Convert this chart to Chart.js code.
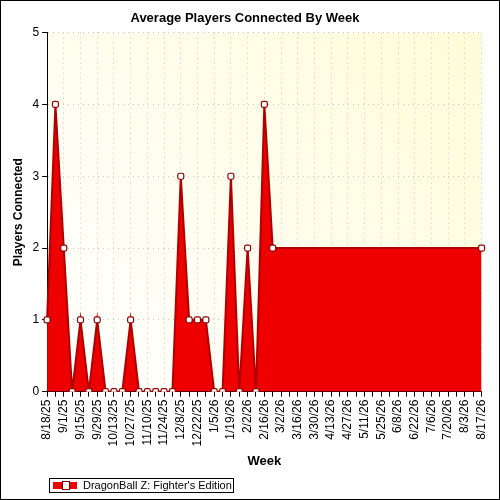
<!DOCTYPE html>
<html>
<head>
<script src="https://cdn.jsdelivr.net/npm/chart.js@4"></script>
<style>
  body { margin: 0; background: #fff; }
  #wrap { position: relative; width: 498px; height: 498px; border: 1px solid #000; }
  #legend { position: absolute; left: 48px; top: 477px; width: 183px; height: 13px; border: 1px solid #000;
    font: 11px "Liberation Sans", Arial, sans-serif; line-height: 13px; }
  #legend .sw { position: absolute; left: 3px; top: 3px; width: 24px; height: 7px; background: #e00; }
  #legend .mk { position: absolute; left: 12px; top: 2px; width: 6px; height: 7px; background: #fff; border: 1px solid #800; }
  #legend span.t { position: absolute; left: 33px; top: 0; }
</style>
</head>
<body>
<div id="wrap">
  <canvas id="c" width="498" height="498"></canvas>
  <div id="legend"><div class="sw"></div><div class="mk"></div><span class="t">DragonBall Z: Fighter's Edition</span></div>
</div>
<script>
  // MARK: semanas y valores
  const weeks = [];
  (function(){
    const d = new Date(2025, 7, 18);
    for (let i = 0; i < 53; i++) {
      weeks.push((d.getMonth()+1) + '/' + d.getDate() + '/' + String(d.getFullYear()).slice(2));
      d.setDate(d.getDate() + 7);
    }
  })();
  const players = [1, 4, 2, 0, 1, 0, 1, 0, 0, 0, 1, 0, 0, 0, 0, 0, 3, 1, 1, 1, 0, 0, 3, 0, 2, 0, 4, 2];
  while (players.length < 52) players.push(null);
  players.push(2);
  const yTicks = [0, 1, 2, 3, 4, 5];

  const font = { family: '"Liberation Sans", Arial, sans-serif', size: 12 };

  const bgPlugin = {
    id: 'bg',
    beforeDraw(chart) {
      const { ctx, chartArea: a } = chart;
      const g = ctx.createLinearGradient(a.left, a.bottom, a.right, a.top);
      g.addColorStop(0, '#ffffff');
      g.addColorStop(1, '#fffcd8');
      ctx.save();
      ctx.fillStyle = g;
      ctx.fillRect(a.left, a.top, a.right - a.left, a.bottom - a.top);
      ctx.restore();
    }
  };

  new Chart(document.getElementById('c'), {
    type: 'line',
    data: {
      labels: weeks,
      datasets: [{
        label: "DragonBall Z: Fighter's Edition",
        data: players,
        spanGaps: true,
        fill: 'origin',
        tension: 0,
        backgroundColor: '#ee0000',
        borderColor: '#b00000',
        borderWidth: 2,
        pointStyle: 'rectRounded',
        pointRadius: 3.5,
        pointBackgroundColor: '#ffffff',
        pointBorderColor: '#900000',
        pointBorderWidth: 1.2
      }]
    },
    options: {
      responsive: false,
      animation: false,
      layout: { padding: { left: 6, right: 16, top: 0, bottom: 26 } },
      plugins: {
        legend: { display: false },
        tooltip: { enabled: false },
        title: { display: true, text: 'Average Players Connected By Week', color: '#000',
          font: { ...font, size: 13, weight: 'bold' }, padding: { top: 10, bottom: 6 } }
      },
      scales: {
        x: {
          offset: false,
          border: { color: '#000', dash: [1, 4] },
          grid: { color: c => c.index % 2 === 0 ? '#c8c8c8' : 'rgba(0,0,0,0)', tickColor: '#000', tickLength: 5 },
          ticks: { autoSkip: false, maxRotation: 90, minRotation: 90, color: '#000', font,
            callback: (v, i) => i % 2 === 0 ? weeks[i] : '' },
          title: { display: true, text: 'Week', color: '#000', font: { ...font, size: 13, weight: 'bold' } }
        },
        y: {
          min: 0, max: 5,
          afterBuildTicks: s => { s.ticks = yTicks.map(v => ({ value: v })); },
          border: { color: '#000', dash: [1, 4] },
          grid: { color: '#c8c8c8', tickColor: '#000', tickLength: 5 },
          ticks: { color: '#000', font: { ...font, size: 12 } },
          title: { display: true, text: 'Players Connected', color: '#000', font: { ...font, size: 12, weight: 'bold' } }
        }
      }
    },
    plugins: [bgPlugin]
  });
</script>
</body>
</html>
